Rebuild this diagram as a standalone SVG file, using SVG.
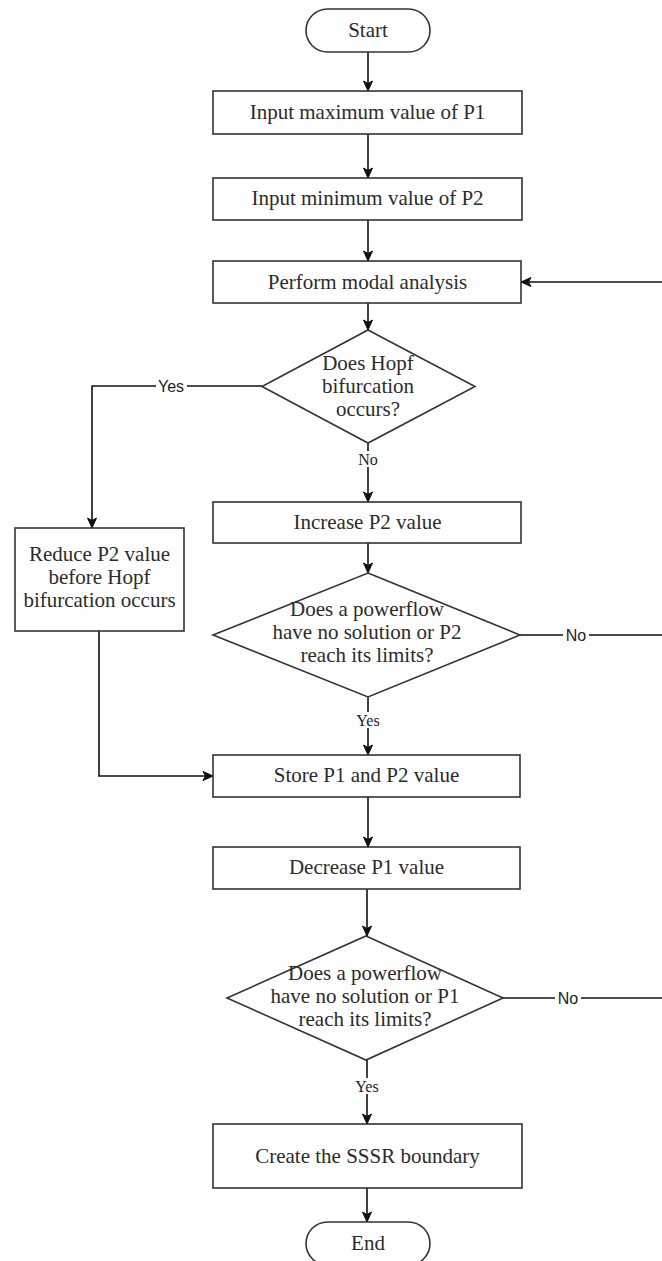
<svg xmlns="http://www.w3.org/2000/svg" width="662" height="1261" viewBox="0 0 662 1261">
<defs>
<style>
.shape{fill:#fff;stroke:#333;stroke-width:1.6}
.t{font-family:"Liberation Serif","Times New Roman",serif;font-size:21px;fill:#2b2b2b;text-anchor:middle}
.ls{font-family:"Liberation Sans",Arial,sans-serif;font-size:16px;fill:#222;text-anchor:middle}
.lr{font-family:"Liberation Serif","Times New Roman",serif;font-size:16px;fill:#222;text-anchor:middle}
.c{fill:none;stroke:#111;stroke-width:1.6}
.bg{fill:#fff}
</style>
<marker id="arr" viewBox="0 0 12 12" refX="11" refY="6" markerWidth="12" markerHeight="12" markerUnits="userSpaceOnUse" orient="auto">
<path d="M1,1.5 L11,6 L1,10.5 L3.5,6 z" fill="#111" stroke="#111" stroke-width="1"/>
</marker>
</defs>
<rect width="662" height="1261" fill="#fff"/>
<g id="connectors">
<path class="c" d="M368,52 L368,91" marker-end="url(#arr)"/>
<path class="c" d="M368,134 L368,178" marker-end="url(#arr)"/>
<path class="c" d="M368,220 L368,261" marker-end="url(#arr)"/>
<path class="c" d="M368,303 L368,330" marker-end="url(#arr)"/>
<path class="c" d="M262,386 L92,386 L92,528" marker-end="url(#arr)"/>
<path class="c" d="M368,443 L368,502" marker-end="url(#arr)"/>
<path class="c" d="M368,543 L368,573" marker-end="url(#arr)"/>
<path class="c" d="M520,635 L662,635"/>
<path class="c" d="M662,282 L521,282" marker-end="url(#arr)"/>
<path class="c" d="M368,697 L368,755" marker-end="url(#arr)"/>
<path class="c" d="M99,631 L99,776 L213,776" marker-end="url(#arr)"/>
<path class="c" d="M368,797 L368,847" marker-end="url(#arr)"/>
<path class="c" d="M367,889 L367,936" marker-end="url(#arr)"/>
<path class="c" d="M503,998 L662,998"/>
<path class="c" d="M367,1060 L367,1124" marker-end="url(#arr)"/>
<path class="c" d="M367,1188 L367,1222" marker-end="url(#arr)"/>
<rect class="bg" x="156" y="378" width="31" height="17"/>
<text class="ls" x="171" y="392">Yes</text>
<rect class="bg" x="357" y="451" width="22" height="16"/>
<text class="lr" x="368" y="465">No</text>
<rect class="bg" x="563" y="627" width="26" height="17"/>
<text class="ls" x="576" y="641">No</text>
<rect class="bg" x="353" y="712" width="30" height="16"/>
<text class="lr" x="368" y="726">Yes</text>
<rect class="bg" x="352" y="1078" width="30" height="16"/>
<text class="lr" x="367" y="1092">Yes</text>
<rect class="bg" x="555" y="990" width="26" height="17"/>
<text class="ls" x="568" y="1004">No</text>
</g>
<g id="start">
<rect class="shape" x="306" y="9" width="124" height="43" rx="21.5"/>
<text class="t" x="368" y="37">Start</text>
</g>
<g id="input-p1">
<rect class="shape" x="213" y="91" width="309" height="43"/>
<text class="t" x="367.5" y="119">Input maximum value of P1</text>
</g>
<g id="input-p2">
<rect class="shape" x="213" y="178" width="309" height="42"/>
<text class="t" x="367.5" y="205">Input minimum value of P2</text>
</g>
<g id="modal">
<rect class="shape" x="213" y="261" width="308" height="42"/>
<text class="t" x="367.5" y="289">Perform modal analysis</text>
</g>
<g id="hopf">
<polygon class="shape" points="368,330 475,386.5 368,443 262,386.5"/>
<text class="t" x="368" y="370">Does Hopf</text>
<text class="t" x="368" y="393">bifurcation</text>
<text class="t" x="368" y="416">occurs?</text>
</g>
<g id="reduce">
<rect class="shape" x="15" y="528" width="169" height="103"/>
<text class="t" x="99.5" y="561">Reduce P2 value</text>
<text class="t" x="99.5" y="584">before Hopf</text>
<text class="t" x="99.5" y="607">bifurcation occurs</text>
</g>
<g id="increase">
<rect class="shape" x="213" y="502" width="308" height="41"/>
<text class="t" x="367.5" y="529">Increase P2 value</text>
</g>
<g id="check-p2">
<polygon class="shape" points="368,573 520,635 368,697 213,635"/>
<text class="t" x="367" y="616">Does a powerflow</text>
<text class="t" x="367" y="639">have no solution or P2</text>
<text class="t" x="367" y="662">reach its limits?</text>
</g>
<g id="store">
<rect class="shape" x="213" y="755" width="307" height="42"/>
<text class="t" x="366.5" y="782">Store P1 and P2 value</text>
</g>
<g id="decrease">
<rect class="shape" x="213" y="847" width="307" height="42"/>
<text class="t" x="366.5" y="874">Decrease P1 value</text>
</g>
<g id="check-p1">
<polygon class="shape" points="366,936 503,998 366,1060 227,998"/>
<text class="t" x="365" y="980">Does a powerflow</text>
<text class="t" x="365" y="1003">have no solution or P1</text>
<text class="t" x="365" y="1026">reach its limits?</text>
</g>
<g id="create">
<rect class="shape" x="213" y="1124" width="309" height="64"/>
<text class="t" x="367.5" y="1163">Create the SSSR boundary</text>
</g>
<g id="end">
<rect class="shape" x="306" y="1222" width="124" height="43" rx="21.5"/>
<text class="t" x="368" y="1250">End</text>
</g>
</svg>
